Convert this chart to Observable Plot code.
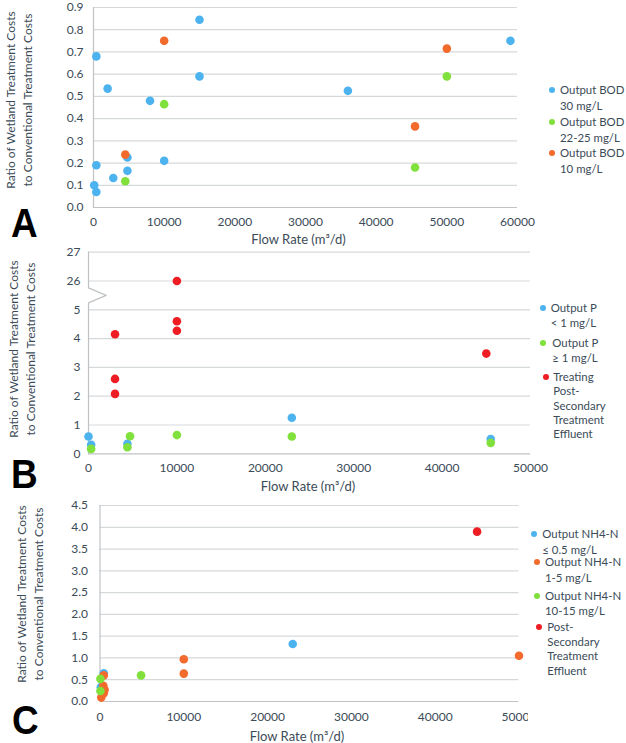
<!DOCTYPE html>
<html>
<head>
<meta charset="utf-8">
<script src="https://cdn.jsdelivr.net/npm/d3@7"></script>
<script src="https://cdn.jsdelivr.net/npm/@observablehq/plot@0.6"></script>
<style>
  html, body { margin: 0; padding: 0; background: #fff; }
  #root { position: relative; width: 626px; height: 743px; overflow: hidden; font-family: Lato, "Open Sans", sans-serif; color: #3b4b57; }
  .panel { position: absolute; left: 0; }
  .ytitle { position: absolute; width: 230px; height: 34px; line-height: 17px; font-size: 12px; text-align: center; white-space: nowrap; transform: rotate(-90deg); transform-origin: 50% 50%; }
  .xtitle { position: absolute; width: 200px; font-size: 13px; line-height: 16px; text-align: center; white-space: nowrap; }
  .letter { position: absolute; font-family: "Liberation Sans", Arial, sans-serif; font-weight: bold; font-size: 41px; line-height: 41px; color: #000; transform: scaleX(0.9); transform-origin: 0 0; }
  .legend { position: absolute; background: #fff; }
  .lline { position: absolute; font-size: 11.4px; line-height: 12px; height: 12px; white-space: nowrap; }
  .ldot { position: absolute; width: 6px; height: 6px; border-radius: 50%; }
</style>
</head>
<body>
<div id="root"></div>
<script>
// ---------------- DATA ----------------
// Panel A: BOD
const aXTicks = [0, 10000, 20000, 30000, 40000, 50000, 60000];
const aYTicks = [0, 0.1, 0.2, 0.3, 0.4, 0.5, 0.6, 0.7, 0.8, 0.9];
const aBod30X = [100, 400, 400, 400, 2000, 2800, 4800, 4800, 8000, 10000, 15000, 15000, 36000, 59000];
const aBod30Y = [0.10, 0.07, 0.19, 0.68, 0.535, 0.133, 0.225, 0.165, 0.48, 0.21, 0.845, 0.59, 0.525, 0.75];
const aBod22X = [4500, 10000, 45500, 50000];
const aBod22Y = [0.118, 0.465, 0.18, 0.59];
const aBod10X = [4500, 10000, 45500, 50000];
const aBod10Y = [0.238, 0.75, 0.365, 0.715];
const aLegend = [["Output BOD", "30 mg/L"], ["Output BOD", "22-25 mg/L"], ["Output BOD", "10 mg/L"]];

// Panel B: Phosphorus (broken y axis)
const bXTicks = [0, 10000, 20000, 30000, 40000, 50000];
const bYTicks = [0, 1, 2, 3, 4, 5, 26, 27];
const bPlow1X = [0, 300, 4400, 23000, 45500];
const bPlow1Y = [0.6, 0.31, 0.35, 1.25, 0.51];
const bPhigh1X = [300, 4400, 4700, 10000, 23000, 45500];
const bPhigh1Y = [0.17, 0.23, 0.61, 0.65, 0.6, 0.38];
const bPostX = [3000, 3000, 3000, 10000, 10000, 10000, 45000];
const bPostY = [4.15, 2.6, 2.08, 26, 4.6, 4.27, 3.48];
const bLegend = [["Output P", "< 1 mg/L"], ["Output P", "≥ 1 mg/L"], ["Treating", "Post-", "Secondary", "Treatment", "Effluent"]];

// Panel C: NH4-N
const cXTicks = [0, 10000, 20000, 30000, 40000, 50000];
const cYTicks = [0, 0.5, 1.0, 1.5, 2.0, 2.5, 3.0, 3.5, 4.0, 4.5];
const cLowX = [100, 450, 23000];
const cLowY = [0.33, 0.65, 1.32];
const cMidX = [450, 400, 550, 450, 150, 10000, 10000, 50000];
const cMidY = [0.6, 0.36, 0.27, 0.19, 0.09, 0.97, 0.64, 1.05];
const cHighX = [50, 50, 4900];
const cHighY = [0.52, 0.24, 0.6];
const cPostX = [45000];
const cPostY = [3.9];
const cLegend = [["Output NH4-N", "≤ 0.5 mg/L"], ["Output NH4-N", "1-5 mg/L"], ["Output NH4-N", "10-15 mg/L"], ["Post-", "Secondary", "Treatment", "Effluent"]];

const yTitle = ["Ratio of Wetland Treatment Costs", "to Conventional Treatment Costs"];
const xTitle = "Flow Rate (m³/d)";

// ---------------- STYLE ----------------
const TXT = "#3b4b57", GRID = "#d6d9db", AXIS = "#bfc3c6";
const BLUE = "#4db3ef", GREEN = "#80e03c", ORANGE = "#f26a2c", RED = "#ee1d24";
const R = 4.3;
const pts = (xs, ys) => xs.map((x, i) => ({x, y: ys[i]}));
const root = document.getElementById("root");
const baseStyle = {fontFamily: "Lato, 'Open Sans', sans-serif", fontSize: "12px", color: TXT, background: "transparent", overflow: "visible"};

function place(node, top) {
  const d = document.createElement("div");
  d.className = "panel";
  d.style.top = top + "px";
  d.appendChild(node);
  root.appendChild(d);
}
function addYTitle(cx, cy) {
  const d = document.createElement("div");
  d.className = "ytitle";
  d.style.left = (cx - 115) + "px";
  d.style.top = (cy - 17) + "px";
  d.innerHTML = yTitle.map(t => `<div>${t}</div>`).join("");
  root.appendChild(d);
}
function addXTitle(cx, cy) {
  const d = document.createElement("div");
  d.className = "xtitle";
  d.style.left = (cx - 100) + "px";
  d.style.top = (cy - 8) + "px";
  d.textContent = xTitle;
  root.appendChild(d);
}
function addLetter(txt, left, capTop) {
  const d = document.createElement("div");
  d.className = "letter";
  d.style.left = left + "px";
  d.style.top = (capTop - 0.13 * 41) + "px";
  d.textContent = txt;
  root.appendChild(d);
}
// items: [{lines, color, mx, my, tx, lh}] in page coordinates
function addLegend(box, items) {
  const lg = document.createElement("div");
  lg.className = "legend";
  Object.assign(lg.style, {left: box[0] + "px", top: box[1] + "px", width: box[2] + "px", height: box[3] + "px"});
  items.forEach(it => {
    const dot = document.createElement("div");
    dot.className = "ldot";
    dot.style.background = it.color;
    dot.style.left = (it.mx - box[0] - 3) + "px";
    dot.style.top = (it.my - box[1] - 3) + "px";
    lg.appendChild(dot);
    it.lines.forEach((line, j) => {
      const t = document.createElement("div");
      t.className = "lline";
      t.style.left = (it.tx - box[0]) + "px";
      t.style.top = (it.my - box[1] - 6 + j * it.lh) + "px";
      t.textContent = line;
      lg.appendChild(t);
    });
  });
  root.appendChild(lg);
}

// ---------------- PANEL A ----------------
const plotA = Plot.plot({
  width: 626, height: 250,
  marginTop: 7, marginBottom: 43, marginLeft: 93, marginRight: 109,
  style: baseStyle,
  x: {domain: [0, 60000], ticks: aXTicks, tickFormat: d => String(d), tickSize: 0, tickPadding: 10, label: null},
  y: {domain: [0, 0.9], ticks: aYTicks, tickFormat: d => d.toFixed(1), tickSize: 0, tickPadding: 10, label: null},
  marks: [
    Plot.ruleY(aYTicks.filter(v => v > 0), {stroke: GRID, strokeWidth: 1.2}),
    Plot.ruleY([0], {stroke: AXIS, strokeWidth: 1.2}),
    Plot.ruleX([0], {stroke: AXIS, strokeWidth: 1.2}),
    Plot.dot(pts(aBod30X, aBod30Y), {x: "x", y: "y", r: R, fill: BLUE}),
    Plot.dot(pts(aBod22X, aBod22Y), {x: "x", y: "y", r: R, fill: GREEN}),
    Plot.dot(pts(aBod10X, aBod10Y), {x: "x", y: "y", r: R, fill: ORANGE})
  ]
});
place(plotA, 0);

// ---------------- PANEL B ----------------
const bBreakLow = 5, bBreakHigh = 26;
const bGap = bBreakHigh - bBreakLow - 1;
const bPos = v => v > bBreakLow ? v - bGap : v;
const bTickPos = bYTicks.map(bPos);
const bTop = bPos(bYTicks[bYTicks.length - 1]);
const bMid = (bPos(bBreakLow) + bPos(bBreakHigh)) / 2;
const bTipX = 0.04 * bXTicks[bXTicks.length - 1];
const bAxisPath = [
  {x: 0, y: bTop}, {x: 0, y: bMid + 0.26}, {x: bTipX, y: bMid}, {x: 0, y: bMid - 0.26}, {x: 0, y: 0}
];
const bpts = (xs, ys) => xs.map((x, i) => ({x, y: bPos(ys[i])}));
const plotB = Plot.plot({
  width: 626, height: 255,
  marginTop: 11.7, marginBottom: 41.7, marginLeft: 88, marginRight: 96,
  style: baseStyle,
  x: {domain: [0, 50000], ticks: bXTicks, tickFormat: d => String(d), tickSize: 0, tickPadding: 10, label: null},
  y: {domain: [0, bTop], ticks: bTickPos, tickFormat: p => String(bYTicks[bTickPos.indexOf(p)]), tickSize: 0, tickPadding: 8, label: null},
  marks: [
    Plot.ruleY(bTickPos.filter(v => v > 0), {stroke: GRID, strokeWidth: 1.2}),
    Plot.ruleY([0], {stroke: AXIS, strokeWidth: 1.2}),
    Plot.line(bAxisPath, {x: "x", y: "y", stroke: AXIS, strokeWidth: 1.2}),
    Plot.dot(bpts(bPlow1X, bPlow1Y), {x: "x", y: "y", r: R, fill: BLUE}),
    Plot.dot(bpts(bPhigh1X, bPhigh1Y), {x: "x", y: "y", r: R, fill: GREEN}),
    Plot.dot(bpts(bPostX, bPostY), {x: "x", y: "y", r: R, fill: RED})
  ]
});
place(plotB, 240);

// ---------------- PANEL C ----------------
const plotC = Plot.plot({
  width: 626, height: 248,
  marginTop: 10, marginBottom: 42, marginLeft: 99.5, marginRight: 107.5,
  style: baseStyle,
  x: {domain: [0, 50000], ticks: cXTicks, tickFormat: d => String(d), tickSize: 0, tickPadding: 11, label: null},
  y: {domain: [0, 4.5], ticks: cYTicks, tickFormat: d => d.toFixed(1), tickSize: 0, tickPadding: 12, label: null},
  marks: [
    Plot.ruleY(cYTicks.filter(v => v > 0), {stroke: GRID, strokeWidth: 1.2}),
    Plot.ruleY([0], {stroke: AXIS, strokeWidth: 1.2}),
    Plot.ruleX([0], {stroke: AXIS, strokeWidth: 1.2}),
    Plot.dot(pts(cLowX, cLowY), {x: "x", y: "y", r: R, fill: BLUE}),
    Plot.dot(pts(cMidX, cMidY), {x: "x", y: "y", r: R, fill: ORANGE}),
    Plot.dot(pts(cHighX, cHighY), {x: "x", y: "y", r: R, fill: GREEN}),
    Plot.dot(pts(cPostX, cPostY), {x: "x", y: "y", r: R, fill: RED})
  ]
});
place(plotC, 495);

// ---------------- TITLES / LETTERS / LEGENDS ----------------
addYTitle(18.5, 100);
addYTitle(21.5, 348.5);
addYTitle(29.5, 594);
addXTitle(298.5, 239);
addXTitle(308, 486);
addXTitle(297, 736);
addLetter("A", 11, 208);
addLetter("B", 11, 459);
addLetter("C", 12, 705);

addLegend([540, 80, 86, 100], [
  {lines: aLegend[0], color: BLUE, mx: 552.3, my: 90, tx: 560, lh: 15.8},
  {lines: aLegend[1], color: GREEN, mx: 552.3, my: 121.7, tx: 560, lh: 15.8},
  {lines: aLegend[2], color: ORANGE, mx: 552.3, my: 153.3, tx: 560, lh: 15.8}
]);
addLegend([536, 298, 90, 145], [
  {lines: bLegend[0], color: BLUE, mx: 543.3, my: 307.7, tx: 550.7, lh: 15},
  {lines: bLegend[1], color: GREEN, mx: 543.3, my: 342.7, tx: 552.3, lh: 15},
  {lines: bLegend[2], color: RED, mx: 545.7, my: 376.7, tx: 553.3, lh: 14.4}
]);
addLegend([528, 524, 98, 219], [
  {lines: cLegend[0], color: BLUE, mx: 534.3, my: 534.3, tx: 542.3, lh: 15.7},
  {lines: cLegend[1], color: ORANGE, mx: 537.3, my: 562.3, tx: 545, lh: 15.7},
  {lines: cLegend[2], color: GREEN, mx: 537.3, my: 596, tx: 545, lh: 15.3},
  {lines: cLegend[3], color: RED, mx: 539.3, my: 626.7, tx: 547.3, lh: 14.8}
]);
</script>
</body>
</html>
